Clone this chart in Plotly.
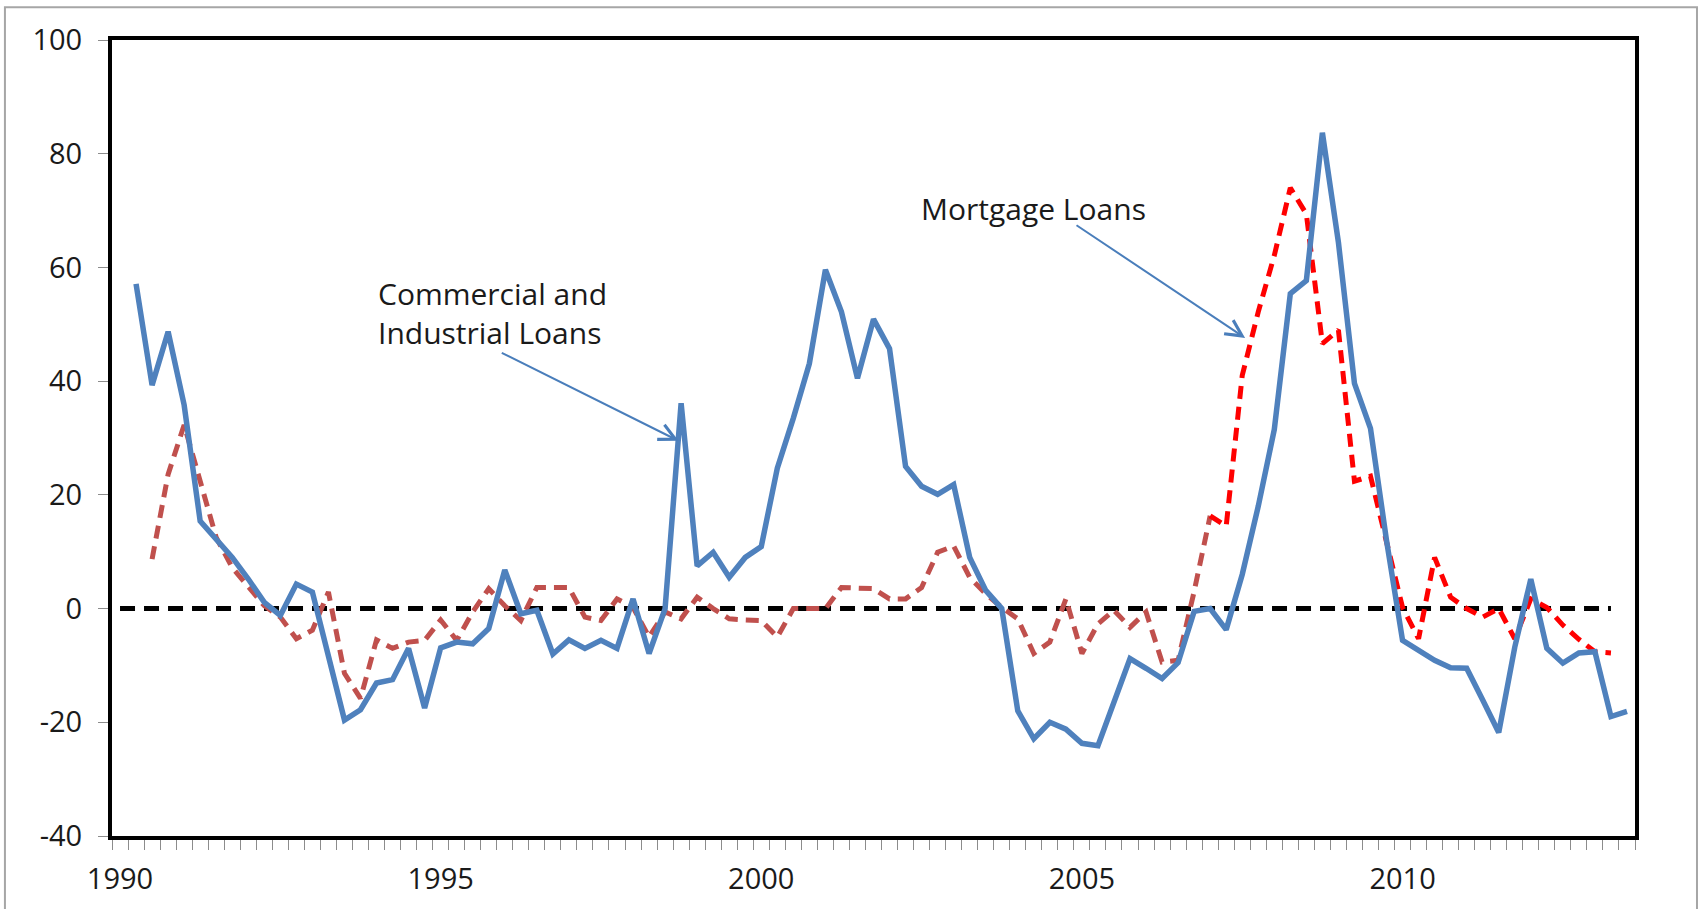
import plotly.graph_objects as go

# Quarterly categories 1990Q1 .. 2013Q3 (95 quarters)
quarters = [f"{1990 + i // 4}Q{i % 4 + 1}" for i in range(95)]
year_labels = ["1990", "1995", "2000", "2005", "2010"]
year_label_idx = [0, 20, 40, 60, 80]

ci_loans = [None, 57.1, 39.3, 48.7, 35.8, 15.4, 12.2, 9.0, 5.2, 1.1,
            -1.2, 4.3, 2.9, -8.0, -19.6, -17.8, -13.1, -12.5, -7.0, -17.5,
            -6.9, -5.9, -6.2, -3.5, 6.8, -0.9, -0.3, -8.0, -5.5, -7.0,
            -5.6, -7.0, 1.7, -7.9, 0.0, 36.1, 7.5, 9.9, 5.5, 9.0,
            10.9, 24.7, 33.5, 43.1, 59.6, 52.2, 40.5, 50.9, 45.7, 25.0,
            21.5, 20.1, 21.8, 9.0, 3.2, 0.0, -18.0, -22.9, -20.0, -21.2,
            -23.7, -24.1, -16.6, -8.8, -10.5, -12.3, -9.5, -0.5, 0.0, -3.7,
            6.0, 18.0, 31.5, 55.4, 57.7, 83.7, 64.4, 39.6, 31.7, 12.0,
            -5.6, -7.3, -9.1, -10.4, -10.5, -16.1, -21.8, -6.8, 5.2, -7.0,
            -9.6, -7.8, -7.6, -19.0, -18.1]

mortgage = [None, None, 8.7, 23.6, 32.3, 22.4, 12.5, 7.2, 3.7, 0.5,
            -1.5, -5.3, -3.8, 2.9, -11.4, -15.8, -5.5, -7.0, -5.9, -5.6,
            -2.0, -5.6, -0.6, 3.5, 0.5, -2.1, 3.7, 3.7, 3.7, -1.5,
            -2.1, 1.7, 0.2, -5.0, -0.6, -1.8, 2.0, 0.0, -1.8, -2.0,
            -2.1, -5.0, 0.0, 0.0, 0.0, 3.7, 3.7, 3.5, 1.7, 1.7,
            3.7, 9.9, 11.0, 5.5, 2.6, 0.2, -1.8, -7.9, -5.9, 1.7,
            -7.9, -2.7, -0.3, -3.3, -0.6, -9.4, -9.1, 3.0, 16.3, 14.5,
            41.0, 52.2, 62.1, 74.0, 69.4, 46.6, 49.0, 22.4, 23.3, 12.0,
            0.2, -5.3, 9.0, 2.0, 0.0, -1.5, 0.0, -5.3, 1.7, 0.2,
            -2.9, -5.4, -7.6, -7.8, None]

zero_line = [0.0] * 94 + [None]
split_idx = 68  # mortgage series drawn in bright red from here on

y_ticks = [-40, -20, 0, 20, 40, 60, 80, 100]
y_ticktext = ["-40", "-20", "0", "20", "40", "60", "80", "100"]

xs = list(range(len(quarters)))
mort_early = [v if i <= split_idx else None for i, v in enumerate(mortgage)]
mort_late = [v if i >= split_idx else None for i, v in enumerate(mortgage)]

fig = go.Figure()
fig.add_trace(go.Scatter(x=xs, y=zero_line, mode="lines",
                         line=dict(color="black", width=5, dash="15px,9px"),
                         hoverinfo="skip"))
fig.add_trace(go.Scatter(x=xs, y=mort_early, mode="lines", name="Mortgage",
                         line=dict(color="#C0504D", width=5, dash="13px,8px")))
fig.add_trace(go.Scatter(x=xs, y=mort_late, mode="lines", name="Mortgage (recent)",
                         line=dict(color="#FF0000", width=5, dash="13px,8px")))
fig.add_trace(go.Scatter(x=xs, y=ci_loans, mode="lines", name="C&I",
                         line=dict(color="#4F81BD", width=5.5)))

font_family = "Open Sans, Liberation Sans, sans-serif"
arrow_color = "#4A7EBB"

fig.add_annotation(x=15.98, y=52.0, xref="x", yref="y",
                   text="Commercial and<br>Industrial Loans", showarrow=False,
                   xanchor="left", yanchor="middle", align="left",
                   font=dict(family=font_family, size=30, color="#1a1a1a"))
fig.add_annotation(x=56.95, y=70.3, xref="x", yref="y",
                   text="Mortgage Loans", showarrow=False,
                   xanchor="center", yanchor="middle",
                   font=dict(family=font_family, size=30, color="#1a1a1a"))
fig.add_annotation(x=34.84, y=29.5, ax=23.72, ay=45.1, xref="x", yref="y",
                   axref="x", ayref="y", text="", showarrow=True,
                   arrowhead=5, arrowsize=1.6, arrowwidth=2, arrowcolor=arrow_color)
fig.add_annotation(x=70.18, y=47.6, ax=59.57, ay=67.6, xref="x", yref="y",
                   axref="x", ayref="y", text="", showarrow=True,
                   arrowhead=5, arrowsize=1.6, arrowwidth=2, arrowcolor=arrow_color)

# outer grey frame of the chart object
fig.add_shape(type="rect", xref="paper", yref="paper",
              x0=-0.0703, x1=1.0407, y0=-0.2, y1=1.041,
              line=dict(color="#A6A6A6", width=2), fillcolor="rgba(0,0,0,0)",
              layer="below")

fig.update_layout(
    width=1699, height=909,
    margin=dict(l=112, r=64, t=40, b=69),
    paper_bgcolor="white", plot_bgcolor="white",
    showlegend=False,
    font=dict(family=font_family, size=29, color="#1a1a1a"),
    xaxis=dict(range=[-0.5, 94.5], tickmode="array", tickvals=year_label_idx,
               ticktext=year_labels, ticks="", showgrid=False, zeroline=False,
               showline=True, linecolor="black", linewidth=4, mirror=True,
               ticklabelstandoff=14,
               minor=dict(tickmode="array", tickvals=[i - 0.5 for i in range(96)],
                          ticks="outside", ticklen=10, tickcolor="#8c8c8c",
                          tickwidth=1, showgrid=False)),
    yaxis=dict(range=[-40, 100], tickmode="array", tickvals=y_ticks,
               ticktext=y_ticktext, ticks="outside", ticklen=10,
               tickcolor="#8c8c8c", tickwidth=1, showgrid=False, zeroline=False,
               showline=True, linecolor="black", linewidth=4, mirror=True,
               ticklabelstandoff=10),
)

fig.write_html("out.html", config={"displayModeBar": False},
               post_script="document.body.style.margin='0';document.body.style.overflow='hidden';")
